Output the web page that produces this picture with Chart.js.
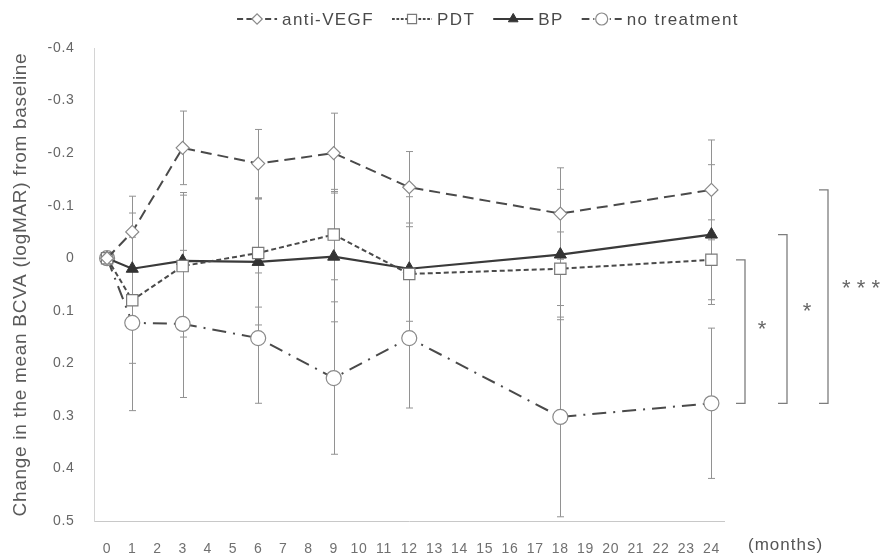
<!DOCTYPE html>
<html><head><meta charset="utf-8">
<script src="https://cdn.jsdelivr.net/npm/chart.js@4.4.0/dist/chart.umd.min.js"></script>
<style>html,body{margin:0;padding:0;background:#fff;}#wrap{width:891px;height:558px;position:relative;}</style>
</head><body><div id="wrap"><canvas id="c"></canvas></div>
<script>
// ---- data ----
const months = [0, 1, 3, 6, 9, 12, 18, 24];
const xTickLabels = ['0','1','2','3','4','5','6','7','8','9','10','11','12','13','14','15','16','17','18','19','20','21','22','23','24'];
const yTickValues = [-0.4, -0.3, -0.2, -0.1, 0, 0.1, 0.2, 0.3, 0.4, 0.5];
const yTickLabels = ['-0.4', '-0.3', '-0.2', '-0.1', '0', '0.1', '0.2', '0.3', '0.4', '0.5'];
const seriesNames = ['anti-VEGF', 'PDT', 'BP', 'no treatment'];
const antiVEGF    = [0, -0.05, -0.21, -0.18, -0.20, -0.135, -0.085, -0.13];
const antiVEGFErr = [0, 0.068, 0.07, 0.065, 0.076, 0.068, 0.087, 0.095];
const pdt         = [0, 0.08, 0.015, -0.01, -0.045, 0.03, 0.02, 0.003];
const pdtErr      = [0, 0.12, 0.135, 0.103, 0.086, 0.09, 0.07, 0.076];
const bp          = [0, 0.02, 0.005, 0.007, -0.003, 0.02, -0.007, -0.045];
const bpErr       = [0, 0.106, 0.13, 0.12, 0.124, 0.137, 0.124, 0.133];
const noTreatment    = [0, 0.123, 0.125, 0.152, 0.228, 0.152, 0.302, 0.276];
const noTreatmentErr = [0, 0.167, 0.14, 0.124, 0.145, 0.133, 0.19, 0.143];
const significance = ['*', '*', '* * *'];   // each vs. no treatment at 24 months
const yTitle = 'Change in the mean BCVA (logMAR) from baseline';
const xUnit = '(months)';

const FONT = "'Liberation Sans', Arial, sans-serif";
const toPts = arr => months.map((m, i) => ({ x: m, y: arr[i] }));

const datasets = [
  { label: seriesNames[0], data: toPts(antiVEGF), err: antiVEGFErr,
    borderColor: '#4a4a4a', borderWidth: 2, borderDash: [11, 6],
    pointStyle: 'rectRot', pointRadius: 6.5, pointHoverRadius: 6.5,
    pointBackgroundColor: '#fff', pointBorderColor: '#8a8a8a', pointBorderWidth: 1.2 },
  { label: seriesNames[1], data: toPts(pdt), err: pdtErr,
    borderColor: '#4a4a4a', borderWidth: 2, borderDash: [5, 3],
    pointStyle: 'rect', pointRadius: 8, pointHoverRadius: 8,
    pointBackgroundColor: '#fff', pointBorderColor: '#7a7a7a', pointBorderWidth: 1.2 },
  { label: seriesNames[2], data: toPts(bp), err: bpErr,
    borderColor: '#3a3a3a', borderWidth: 2.2, borderDash: [],
    pointStyle: 'triangle', pointRadius: 7, pointHoverRadius: 7,
    pointBackgroundColor: '#333', pointBorderColor: '#333', pointBorderWidth: 1 },
  { label: seriesNames[3], data: toPts(noTreatment), err: noTreatmentErr,
    borderColor: '#4a4a4a', borderWidth: 2, borderDash: [14, 7, 2, 7],
    pointStyle: 'circle', pointRadius: 7.5, pointHoverRadius: 7.5,
    pointBackgroundColor: '#fff', pointBorderColor: '#8a8a8a', pointBorderWidth: 1.2 }
];

const extras = {
  id: 'extras',
  beforeDraw(chart) {
    chart.ctx.letterSpacing = '0.7px';
  },
  beforeDatasetsDraw(chart) {
    const ctx = chart.ctx, xs = chart.scales.x, ys = chart.scales.y;
    ctx.save();
    ctx.strokeStyle = '#929292';
    ctx.lineWidth = 1;
    ctx.setLineDash([]);
    chart.data.datasets.forEach(ds => {
      ds.data.forEach((p, i) => {
        const e = ds.err[i];
        if (!e) return;
        const x = Math.round(xs.getPixelForValue(p.x)) + 0.5;
        const y1 = ys.getPixelForValue(p.y - e), y2 = ys.getPixelForValue(p.y + e);
        ctx.beginPath();
        ctx.moveTo(x, y1); ctx.lineTo(x, y2);
        ctx.moveTo(x - 3.5, y1); ctx.lineTo(x + 3.5, y1);
        ctx.moveTo(x - 3.5, y2); ctx.lineTo(x + 3.5, y2);
        ctx.stroke();
      });
    });
    ctx.restore();
  },
  afterDraw(chart) {
    const ctx = chart.ctx, ys = chart.scales.y, ca = chart.chartArea;
    ctx.save();
    // legend
    ctx.letterSpacing = '1.4px';
    ctx.font = '17px ' + FONT;
    ctx.textBaseline = 'middle';
    const sampleW = 40, gap = 5, itemGap = 18, ly = 19;
    const widths = chart.data.datasets.map(ds => sampleW + gap + ctx.measureText(ds.label).width);
    const total = widths.reduce((a, b) => a + b, 0) + itemGap * (widths.length - 1);
    let lx = 488 - total / 2;
    chart.data.datasets.forEach((ds, i) => {
      ctx.save();
      ctx.strokeStyle = ds.borderColor; ctx.lineWidth = 2;
      ctx.setLineDash(ds.borderDash.length ? ds.borderDash.map(v => v * 0.55) : []);
      ctx.beginPath(); ctx.moveTo(lx, ly); ctx.lineTo(lx + sampleW, ly); ctx.stroke();
      ctx.setLineDash([]);
      ctx.fillStyle = ds.pointBackgroundColor; ctx.strokeStyle = ds.pointBorderColor;
      ctx.lineWidth = ds.pointBorderWidth;
      Chart.helpers.drawPoint(ctx, {
        pointStyle: ds.pointStyle, radius: ds.pointRadius * 0.8, rotation: 0,
        borderWidth: ds.pointBorderWidth
      }, lx + sampleW / 2, ly);
      ctx.restore();
      ctx.fillStyle = '#4a4a4a';
      ctx.textAlign = 'left';
      ctx.fillText(ds.label, lx + sampleW + gap, ly + 1);
      lx += widths[i] + itemGap;
    });
    // (months)
    ctx.letterSpacing = '1px';
    ctx.font = '17px ' + FONT;
    ctx.fillStyle = '#555';
    ctx.textAlign = 'left';
    ctx.fillText(xUnit, ca.right + 24, 545);
    // significance brackets: each top series vs. no treatment at last time point
    const last = months.length - 1;
    const tops = [pdt[last], bp[last], antiVEGF[last]];
    const bottom = noTreatment[last];
    const offs = [21, 63, 104];
    const starOff = [17, 20, 33];
    const starDy = [-2, -7, -8];
    ctx.strokeStyle = '#7d7d7d'; ctx.lineWidth = 1.3;
    ctx.letterSpacing = '0px';
    tops.forEach((t, i) => {
      const x = ca.right + offs[i];
      const yT = ys.getPixelForValue(t), yB = ys.getPixelForValue(bottom);
      ctx.beginPath();
      ctx.moveTo(x - 9, yT); ctx.lineTo(x, yT); ctx.lineTo(x, yB); ctx.lineTo(x - 9, yB);
      ctx.stroke();
      ctx.font = '22px ' + FONT;
      ctx.fillStyle = '#666';
      ctx.textAlign = 'center';
      ctx.fillText(significance[i], x + starOff[i], (yT + yB) / 2 + starDy[i]);
    });
    ctx.restore();
  }
};

new Chart(document.getElementById('c'), {
  type: 'line',
  data: { datasets },
  options: {
    responsive: true, maintainAspectRatio: false, animation: false,
    layout: { padding: { top: 48, right: 167, left: 0, bottom: 0 } },
    plugins: { legend: { display: false }, tooltip: { enabled: false } },
    elements: { line: { tension: 0, fill: false } },
    scales: {
      x: {
        type: 'linear', min: -0.5, max: 24.5,
        afterBuildTicks: s => { s.ticks = xTickLabels.map((_, i) => ({ value: i })); },
        afterFit: s => { s.height = 37; },
        ticks: { callback: (v) => xTickLabels[v], autoSkip: false, maxRotation: 0,
                 padding: 20, color: '#707070', font: { family: "'Liberation Sans Narrow', 'Arial Narrow', " + FONT, size: 14 } },
        grid: { display: false, drawTicks: false },
        border: { display: true, color: '#c8c8c8', width: 1, dash: [2, 2] }
      },
      y: {
        type: 'linear', reverse: true, min: -0.4, max: 0.5,
        afterBuildTicks: s => { s.ticks = yTickValues.map(v => ({ value: v })); },
        afterFit: s => { s.width = 94.5; },
        ticks: { callback: (v, i) => yTickLabels[i], padding: 20, color: '#666',
                 font: { family: FONT, size: 14 } },
        grid: { display: false, drawTicks: false },
        border: { display: true, color: '#d4d4d4', width: 1, dash: [2, 2] },
        title: { display: true, text: yTitle, color: '#5a5a5a', padding: { top: 9, bottom: 0 },
                 font: { family: FONT, size: 19 } }
      }
    }
  },
  plugins: [extras]
});
</script></body></html>
